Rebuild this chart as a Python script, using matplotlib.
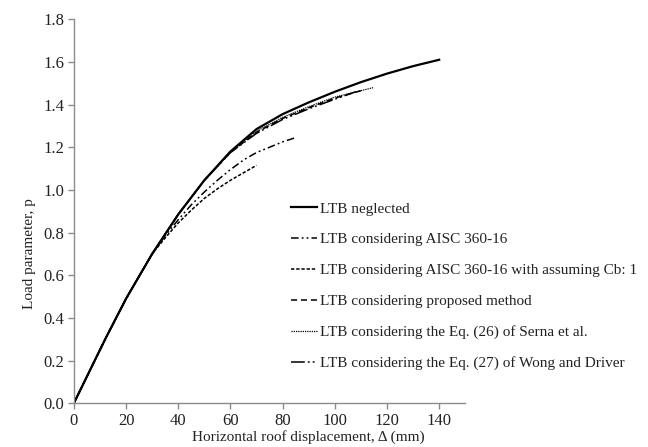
import matplotlib
matplotlib.use("Agg")
import matplotlib.pyplot as plt

# Load-displacement curves (horizontal roof displacement in mm, load parameter p)
x_neglected = [0, 12, 20, 30, 40, 50, 60, 70, 80, 90, 100, 110, 120, 130, 140]
y_neglected = [0, 0.30, 0.49, 0.70, 0.885, 1.045, 1.18, 1.285, 1.355, 1.41, 1.46, 1.505, 1.545, 1.58, 1.61]

x_aisc = [0, 12, 20, 30, 35, 40, 45, 50, 55, 60, 65, 70, 75, 80, 85]
y_aisc = [0, 0.30, 0.49, 0.70, 0.785, 0.86, 0.93, 0.99, 1.045, 1.095, 1.14, 1.175, 1.20, 1.225, 1.245]

x_cb1 = [0, 12, 20, 30, 35, 40, 45, 50, 55, 60, 65, 70]
y_cb1 = [0, 0.30, 0.49, 0.70, 0.775, 0.845, 0.905, 0.96, 1.005, 1.045, 1.08, 1.115]

x_proposed = [0, 12, 20, 30, 40, 50, 60, 70, 80, 90, 100, 110]
y_proposed = [0, 0.30, 0.49, 0.70, 0.885, 1.045, 1.175, 1.27, 1.335, 1.385, 1.43, 1.465]

x_serna = [0, 12, 20, 30, 40, 50, 60, 70, 80, 90, 100, 115]
y_serna = [0, 0.30, 0.49, 0.70, 0.885, 1.045, 1.178, 1.275, 1.34, 1.39, 1.435, 1.48]

x_wong = [0, 12, 20, 30, 40, 50, 60, 70, 80, 90, 100, 108]
y_wong = [0, 0.30, 0.49, 0.70, 0.885, 1.045, 1.175, 1.265, 1.33, 1.38, 1.425, 1.46]

labels = [
    "LTB neglected",
    "LTB considering AISC 360-16",
    "LTB considering AISC 360-16 with assuming Cb: 1",
    "LTB considering proposed method",
    "LTB considering the Eq. (26) of Serna et al.",
    "LTB considering the Eq. (27) of Wong and Driver",
]

x_ticks = [0, 20, 40, 60, 80, 100, 120, 140]
y_ticks = [0.0, 0.2, 0.4, 0.6, 0.8, 1.0, 1.2, 1.4, 1.6, 1.8]

plt.rcParams["font.family"] = ["Liberation Serif", "DejaVu Serif"]

fig = plt.figure(figsize=(6.48, 4.47), dpi=100)
ax = fig.add_axes([0.114, 0.098, 0.604, 0.859])

ax.plot(x_neglected, y_neglected, color="black", lw=1.6, ls="-", label=labels[0])
ax.plot(x_aisc, y_aisc, color="black", lw=1.1, ls=(0, (5, 2, 1.2, 2, 1.2, 2)), label=labels[1])
ax.plot(x_cb1, y_cb1, color="black", lw=1.1, ls=(0, (2.2, 1.2)), label=labels[2])
ax.plot(x_proposed, y_proposed, color="black", lw=1.1, ls=(0, (4, 2.5)), label=labels[3])
ax.plot(x_serna, y_serna, color="black", lw=0.9, ls=(0, (1, 0.8)), label=labels[4])
ax.plot(x_wong, y_wong, color="black", lw=1.1, ls=(0, (9, 2, 1.2, 2, 1.2, 2)), label=labels[5])

ax.set_xlim(0, 150)
ax.set_ylim(0, 1.8)
ax.set_xticks(x_ticks)
ax.set_yticks(y_ticks)
ax.set_yticklabels([f"{v:.1f}" for v in y_ticks])

for side in ("top", "right"):
    ax.spines[side].set_visible(False)
for side in ("left", "bottom"):
    ax.spines[side].set_color("#8c8c8c")
    ax.spines[side].set_linewidth(1.0)

ax.tick_params(axis="both", direction="out", length=4, width=1.0, color="#8c8c8c",
               labelsize=12, labelcolor="#222222", pad=3)

ax.set_xlabel("Horizontal roof displacement, \u0394 (mm)", fontsize=11, color="#222222")
ax.set_ylabel("Load parameter, p", fontsize=11, color="#222222")
ax.xaxis.set_label_coords(0.60, -0.071)
ax.yaxis.set_label_coords(-0.098, 0.39)

leg = ax.legend(loc="upper left", bbox_to_anchor=(0.54, 0.54), frameon=False,
                fontsize=11, handlelength=1.7, handletextpad=0.15,
                labelspacing=1.12, borderaxespad=0)
for t in leg.get_texts():
    t.set_color("#222222")

fig.savefig("out.png", dpi=100)
